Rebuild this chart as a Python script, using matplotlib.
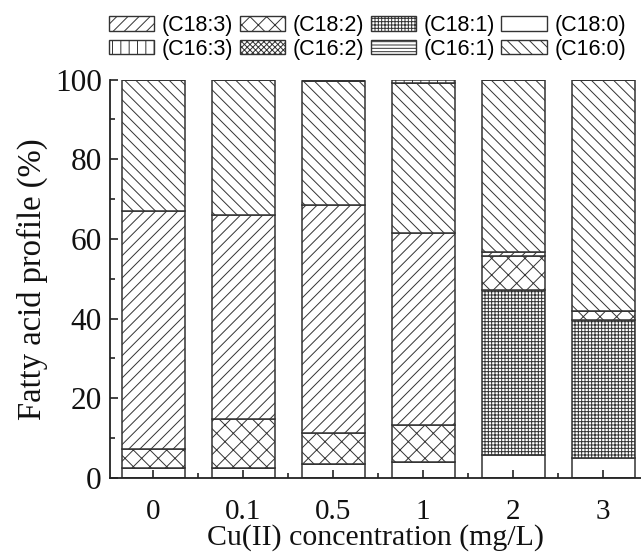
import matplotlib
matplotlib.use("Agg")
import matplotlib.pyplot as plt
from matplotlib.patches import Patch
import numpy as np

# Cu(II) concentrations (mg/L)
conc_labels = ["0", "0.1", "0.5", "1", "2", "3"]

# fatty acid fractions (%)
c18_0 = [2.5, 2.4, 3.4, 4.1, 5.8, 5.1]
c18_1 = [0.0, 0.0, 0.0, 0.0, 41.3, 34.5]
c18_2 = [4.75, 12.4, 8.0, 9.1, 8.5, 2.4]
c18_3 = [59.8, 51.1, 57.1, 48.4, 1.0, 0.0]
c16_0 = [32.95, 34.1, 31.1, 37.5, 43.4, 58.0]
c16_1 = [0.0, 0.0, 0.0, 0.0, 0.0, 0.0]
c16_2 = [0.0, 0.0, 0.0, 0.0, 0.0, 0.0]
c16_3 = [0.0, 0.0, 0.0, 0.9, 0.0, 0.0]

plt.rcParams["hatch.linewidth"] = 0.7
plt.rcParams["hatch.color"] = "#444444"

fig = plt.figure(figsize=(6.41, 5.55), dpi=100)
ax = fig.add_axes([0.1716, 0.1387, 0.8284, 0.718])

x = np.arange(len(conc_labels))
edge = "#333333"

# stacking order from bottom to top
layers = [
    ("(C18:0)", c18_0, ""),
    ("(C18:1)", c18_1, "+++++"),
    ("(C18:2)", c18_2, "xx"),
    ("(C18:3)", c18_3, "///"),
    ("(C16:0)", c16_0, "\\\\\\"),
    ("(C16:1)", c16_1, "-----"),
    ("(C16:2)", c16_2, "xxxxxx"),
    ("(C16:3)", c16_3, "||"),
]

bottom = np.zeros(len(x))
handles = {}
for name, vals, hatch in layers:
    vals = np.array(vals)
    ax.bar(x, vals, width=0.7, bottom=bottom, color="white",
           edgecolor=edge, linewidth=1.1, hatch=hatch)
    handles[name] = Patch(facecolor="white", edgecolor=edge, linewidth=1.0, hatch=hatch)
    bottom = bottom + vals

ax.set_xlim(-0.48, 5.42)
ax.set_ylim(0, 100)
ax.set_xticks(x)
ax.set_xticklabels(conc_labels)
ax.set_xticks(x[:-1] + 0.5, minor=True)
ax.set_yticks([0, 20, 40, 60, 80, 100])
ax.set_yticks([10, 30, 50, 70, 90], minor=True)

for s in ["top", "right"]:
    ax.spines[s].set_visible(False)
for s in ["left", "bottom"]:
    ax.spines[s].set_linewidth(1.3)
    ax.spines[s].set_color("#222222")

ax.tick_params(axis="both", which="major", direction="in", length=6, width=1.2, color="#222222")
ax.tick_params(axis="both", which="minor", direction="in", length=3.5, width=1.2, color="#222222")
ax.tick_params(axis="x", which="major", pad=15)
ax.tick_params(axis="y", which="major", pad=6)
for lab in ax.get_xticklabels():
    lab.set_fontfamily("Liberation Serif")
    lab.set_fontsize(21)
    lab.set_color("#111111")
for lab in ax.get_yticklabels():
    lab.set_fontfamily("Liberation Serif")
    lab.set_fontsize(22.5)
    lab.set_color("#111111")

ax.set_xlabel("Cu(II) concentration (mg/L)", fontfamily="Liberation Serif",
              fontsize=21.5, color="#111111")
ax.xaxis.set_label_coords(0.5, -0.115)
ax.set_ylabel("Fatty acid profile (%)", fontfamily="Liberation Serif",
              fontsize=23.5, labelpad=5, color="#111111")

# legend is filled column by column, so interleave the two rows
order = ["(C18:3)", "(C16:3)", "(C18:2)", "(C16:2)",
         "(C18:1)", "(C16:1)", "(C18:0)", "(C16:0)"]
fig.legend([handles[k] for k in order], order, ncol=4, loc="upper right",
           bbox_to_anchor=(1.0, 1.0), frameon=False,
           prop={"family": "Liberation Sans", "size": 15.5},
           handlelength=2.1, handleheight=0.65, handletextpad=0.35,
           columnspacing=0.3, labelspacing=0.12, borderpad=0.2)

fig.savefig("out.png", dpi=100)
